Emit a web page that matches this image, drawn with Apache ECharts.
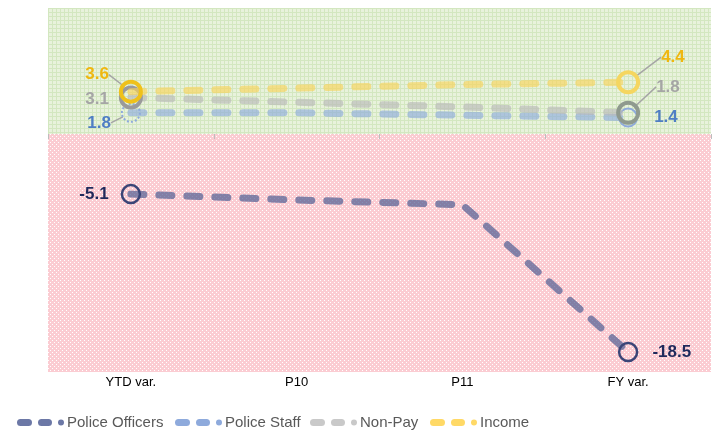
<!DOCTYPE html>
<head>
    <meta charset="utf-8">
    <title>ECharts</title>
    <script type="text/javascript" src="https://cdn.jsdelivr.net/npm/echarts@6/dist/echarts.min.js"></script>
</head>
<body style="margin:0">
    <div id="main" style="width:713px;height:433px"></div>
    <script type="text/javascript">
var categories = ['YTD var.', 'P10', 'P11', 'FY var.'];
var seriesNames = ['Police Officers', 'Police Staff', 'Non-Pay', 'Income'];
var policeOfficers = [-5.1, -5.6, -6.0, -18.5];
var policeStaff = [1.8, 1.8, 1.6, 1.4];
var nonPay = [3.1, 2.7, 2.3, 1.8];
var income = [3.6, 3.9, 4.2, 4.4];

var FONT = '"Liberation Sans", Arial, sans-serif';
var Y_MIN = -20.2, Y_MAX = 10.7;

// small repeating canvas patterns for the two background bands
function makePattern(bg, fg, kind) {
    var c = document.createElement('canvas');
    c.width = 4; c.height = 4;
    var g = c.getContext('2d');
    g.fillStyle = bg; g.fillRect(0, 0, 4, 4);
    g.fillStyle = fg;
    if (kind === 'grid') {
        g.fillRect(0, 0, 4, 1);
        g.fillRect(0, 0, 1, 4);
    } else {
        g.fillRect(0, 0, 1, 1); g.fillRect(2, 2, 1, 1);
    }
    return { image: c, repeat: 'repeat' };
}
var greenFill = makePattern('#e8f2dc', '#d3e7c0', 'grid');
var pinkFill = makePattern('#fbccd2', '#ffffff', 'dots');

// legend icon: dash, dash, dot
var DASH_ICON = 'path://M3.5,0 H11.5 A3.5,3.5 0 0 1 11.5,7 H3.5 A3.5,3.5 0 0 1 3.5,0 Z ' +
    'M24.5,0 H31.5 A3.5,3.5 0 0 1 31.5,7 H24.5 A3.5,3.5 0 0 1 24.5,0 Z ' +
    'M44,0.5 A3,3 0 1 1 44,6.5 A3,3 0 1 1 44,0.5 Z';

function buildData(values, ends) {
    return values.map(function (v, i) {
        var e = i === 0 ? ends[0] : (i === values.length - 1 ? ends[1] : null);
        if (!e) return v;
        return {
            value: v,
            symbol: 'circle',
            symbolSize: e.size,
            itemStyle: { color: 'rgba(255,255,255,0)', borderColor: e.color, borderWidth: e.width, borderType: e.dotted ? 'dotted' : 'solid', opacity: 1 },
            label: { show: true, position: e.pos, color: e.label, fontSize: 17, fontWeight: 'bold', fontFamily: FONT, distance: e.dist || 10 },
            labelLine: { show: !!e.line }
        };
    });
}

var offsets = {
    'Police Officers': [[0, 0], [0, 0]],
    'Police Staff': [[0, 10], [0, 0]],
    'Non-Pay': [[0, 2], [6, -26]],
    'Income': [[0, -17], [11, -25]]
};

function lineSeries(name, color, values, ends, z) {
    return {
        name: name,
        type: 'line',
        z: z,
        symbol: 'none',
        data: buildData(values, ends),
        lineStyle: { color: color, width: 7, type: [13, 15], cap: 'round', opacity: 0.65 },
        itemStyle: { color: color },
        labelLine: { lineStyle: { color: '#a5a5a5', width: 1.5 } },
        labelLayout: function (p) {
            var o = offsets[name][p.dataIndex === 0 ? 0 : 1];
            return { dx: o[0], dy: o[1] };
        }
    };
}

var legendLeft = [12, 170, 305, 425];
var legendColors = ['#6c78a6', '#8eaadc', '#c9c9c9', '#ffd966'];

var myChart = echarts.init(document.getElementById('main'));
myChart.setOption({
    animation: false,
    grid: [
        { left: 48, right: 2, top: 8, bottom: 61 },
        { left: 48, right: 2, top: 8, bottom: 61 }
    ],
    legend: seriesNames.map(function (n, i) {
        return {
            left: legendLeft[i],
            top: 410,
            itemWidth: 47,
            itemHeight: 7,
            icon: DASH_ICON,
            itemStyle: { color: legendColors[i] },
            textStyle: { color: '#595959', fontSize: 15, fontFamily: FONT, padding: [0, 0, 0, -2] },
            data: [n]
        };
    }),
    xAxis: [{
        type: 'category',
        data: categories,
        gridIndex: 0,
        axisLine: { show: false, onZero: false },
        axisTick: { show: false },
        axisLabel: { color: '#000', fontSize: 13, fontFamily: FONT, margin: 4 }
    }, {
        type: 'category',
        data: categories,
        gridIndex: 1,
        z: 10,
        axisLine: { show: true, onZero: true, lineStyle: { color: 'rgba(0,0,0,0)' } },
        axisTick: { show: true, length: 5, lineStyle: { color: '#bdbdbd' } },
        axisLabel: { show: false }
    }],
    yAxis: [
        { type: 'value', gridIndex: 0, min: Y_MIN, max: Y_MAX, show: false, splitLine: { show: false } },
        { type: 'value', gridIndex: 1, min: Y_MIN, max: Y_MAX, show: false, splitLine: { show: false } }
    ],
    series: [
        {
            type: 'line',
            data: [],
            silent: true,
            z: 1,
            markArea: {
                silent: true,
                data: [
                    [{ yAxis: 0, itemStyle: { color: greenFill, opacity: 1 } }, { yAxis: Y_MAX }],
                    [{ yAxis: Y_MIN, itemStyle: { color: pinkFill, opacity: 1 } }, { yAxis: 0 }]
                ]
            }
        },
        lineSeries('Police Officers', '#42548e', policeOfficers, [
            { color: '#3a4577', width: 2.5, size: 18, label: '#1f2a5c', pos: 'left', dist: 12 },
            { color: '#3a4577', width: 2.5, size: 18, label: '#1f2a5c', pos: 'right', dist: 14 }
        ], 4),
        lineSeries('Police Staff', '#8eaadc', policeStaff, [
            { color: '#8eaadc', width: 2, size: 18, label: '#4f7ec4', pos: 'left', dotted: true, line: true },
            { color: '#8eaadc', width: 2, size: 18, label: '#4f7ec4', pos: 'right', dist: 16 }
        ], 3),
        lineSeries('Non-Pay', '#b9b9b9', nonPay, [
            { color: '#9a9a9a', width: 4, size: 20, label: '#a5a5a5', pos: 'left' },
            { color: '#8f9a8f', width: 4, size: 20, label: '#a5a5a5', pos: 'right', line: true }
        ], 5),
        lineSeries('Income', '#f8d35a', income, [
            { color: '#efc11a', width: 4, size: 20, label: '#efb70f', pos: 'left', line: true },
            { color: '#f5d660', width: 4, size: 20, label: '#efb70f', pos: 'right', line: true }
        ], 6)
    ]
});
    </script>
</body>
